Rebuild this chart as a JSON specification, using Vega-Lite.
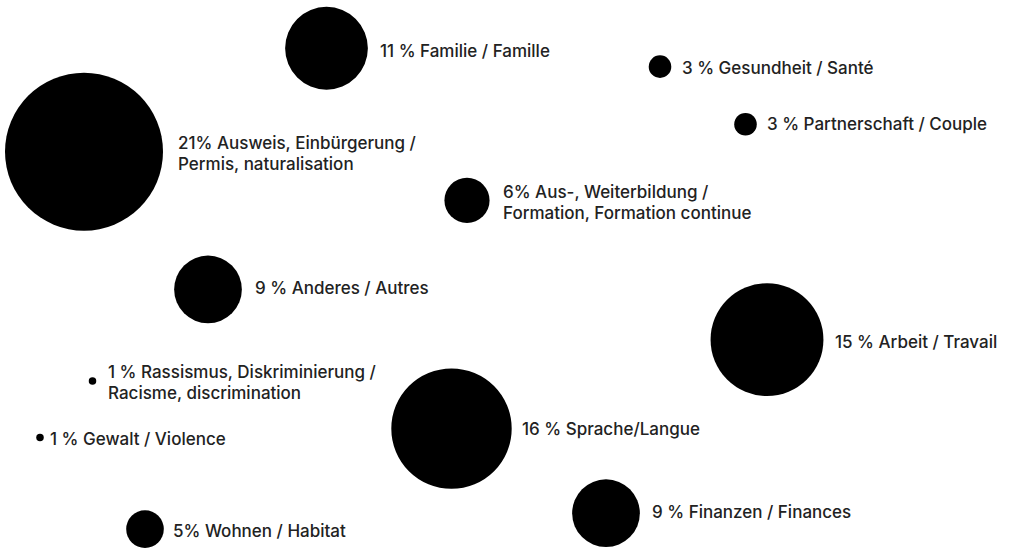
{
  "$schema": "https://vega.github.io/schema/vega-lite/v6.json",
  "width": 1013,
  "height": 548,
  "autosize": {"type": "fit", "contains": "padding"},
  "padding": 0,
  "background": "white",
  "config": {"view": {"stroke": null}},
  "data": {
    "values": [
      {"topic": "Familie", "x": 326.5, "y": 48.5, "pct": 11, "lx": 380, "ly": 52, "label": "11 % Familie / Famille"},
      {"topic": "Gesundheit", "x": 660, "y": 67, "pct": 3, "lx": 682, "ly": 69, "label": "3 % Gesundheit / Santé"},
      {"topic": "Partnerschaft", "x": 745.5, "y": 125, "pct": 3, "lx": 767, "ly": 125.5, "label": "3 % Partnerschaft / Couple"},
      {"topic": "Ausweis", "x": 84, "y": 152.5, "pct": 21, "lx": 178, "ly": 145, "label": "21% Ausweis, Einbürgerung /\nPermis, naturalisation"},
      {"topic": "Bildung", "x": 467, "y": 201.5, "pct": 6, "lx": 503, "ly": 194, "label": "6%  Aus-, Weiterbildung /\nFormation, Formation continue"},
      {"topic": "Anderes", "x": 208, "y": 291, "pct": 9, "lx": 255, "ly": 290.5, "label": "9 % Anderes / Autres"},
      {"topic": "Arbeit", "x": 767, "y": 341.5, "pct": 15, "lx": 835, "ly": 344.5, "label": "15 %  Arbeit / Travail"},
      {"topic": "Rassismus", "x": 92.5, "y": 383, "pct": 1, "lx": 108, "ly": 375, "label": "1 % Rassismus, Diskriminierung /\nRacisme, discrimination"},
      {"topic": "Sprache", "x": 451.5, "y": 431, "pct": 16, "lx": 522, "ly": 432.5, "label": "16 % Sprache/Langue"},
      {"topic": "Gewalt", "x": 40, "y": 440, "pct": 1, "lx": 50, "ly": 442, "label": "1 % Gewalt / Violence"},
      {"topic": "Finanzen", "x": 606, "y": 516, "pct": 9, "lx": 652, "ly": 516, "label": "9 % Finanzen / Finances"},
      {"topic": "Wohnen", "x": 145, "y": 532, "pct": 5, "lx": 173, "ly": 534.5, "label": "5% Wohnen / Habitat"}
    ]
  },
  "layer": [
    {
      "mark": {"type": "circle", "opacity": 1, "color": "#000000"},
      "encoding": {
        "x": {"field": "x", "type": "quantitative", "scale": {"domain": [0, 1013], "nice": false, "zero": false}, "axis": null},
        "y": {"field": "y", "type": "quantitative", "scale": {"domain": [0, 548], "reverse": true, "nice": false, "zero": false}, "axis": null},
        "size": {"field": "pct", "type": "quantitative", "scale": {"type": "pow", "exponent": 2, "domain": [0, 21], "range": [0, 24964]}, "legend": null}
      }
    },
    {
      "mark": {"type": "text", "align": "left", "baseline": "middle", "lineBreak": "\n", "lineHeight": 21, "font": "Inter", "fontSize": 17, "fontWeight": 500, "color": "#222222"},
      "encoding": {
        "x": {"field": "lx", "type": "quantitative", "scale": {"domain": [0, 1013], "nice": false, "zero": false}, "axis": null},
        "y": {"field": "ly", "type": "quantitative", "scale": {"domain": [0, 548], "reverse": true, "nice": false, "zero": false}, "axis": null},
        "text": {"field": "label"}
      }
    }
  ]
}
